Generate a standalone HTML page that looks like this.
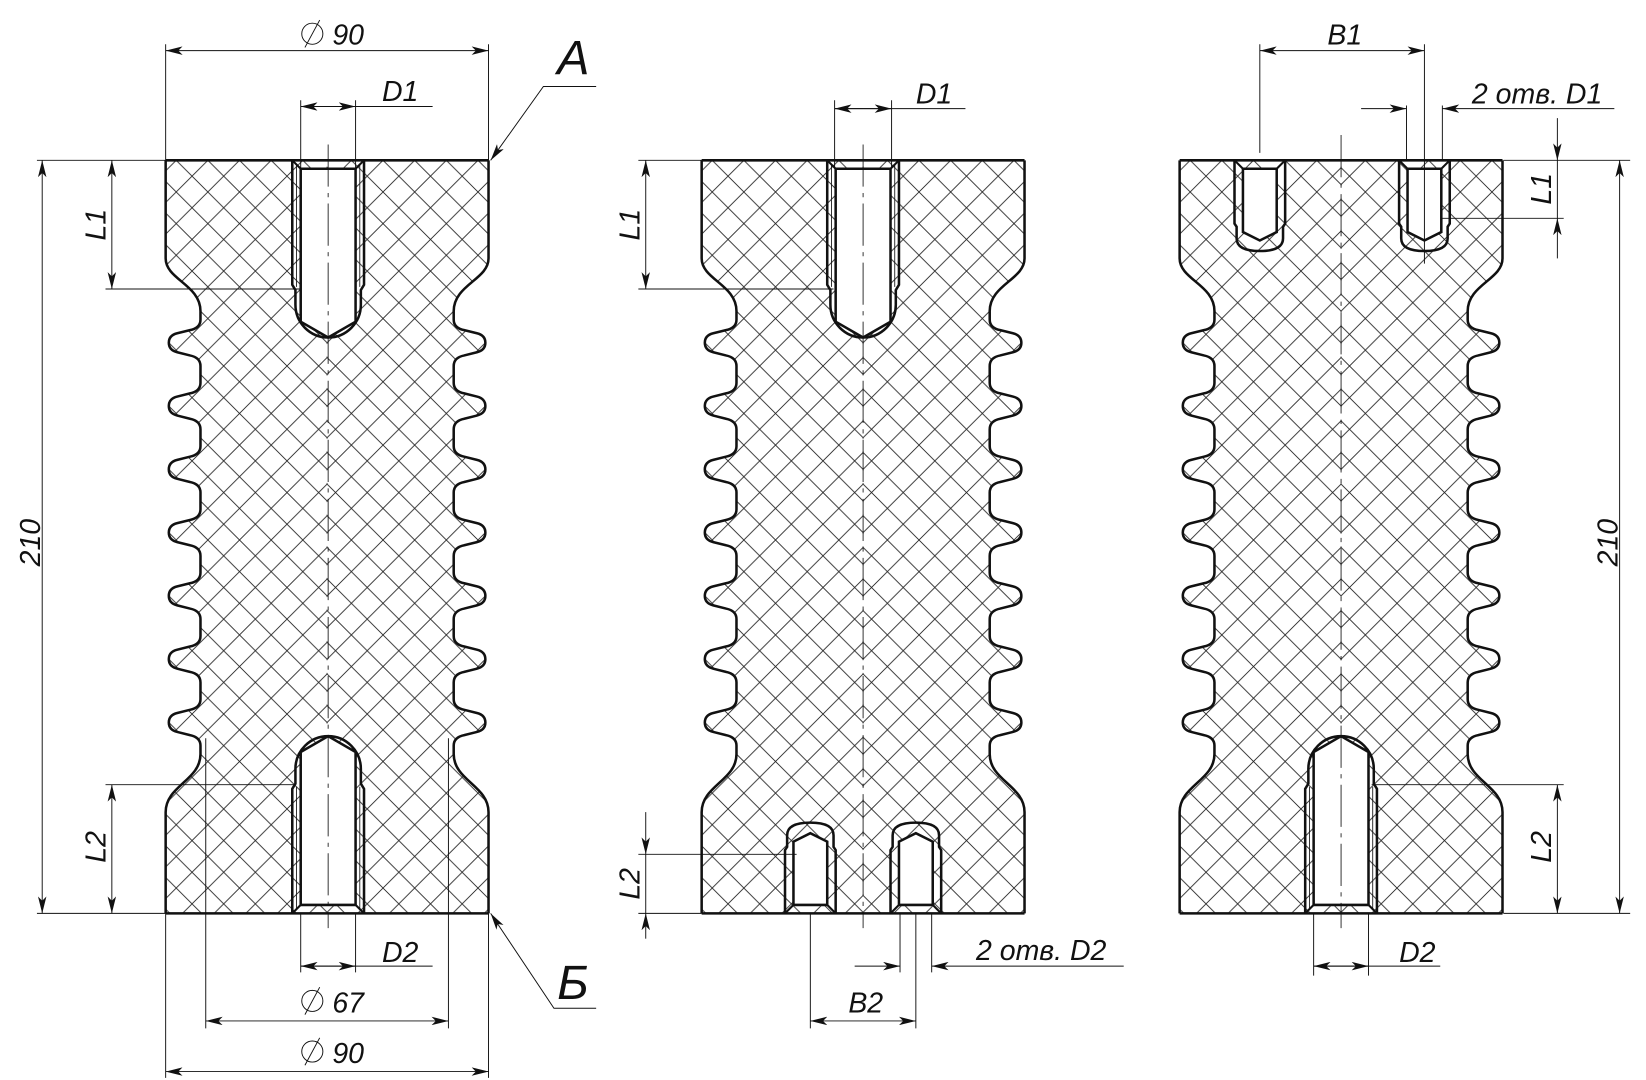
<!DOCTYPE html>
<html><head><meta charset="utf-8"><style>
html,body{margin:0;padding:0;background:#fff;}
svg{display:block;}
text{font-family:"Liberation Sans","DejaVu Sans",sans-serif;font-style:italic;fill:#111;}
</style></head><body>
<svg width="1646" height="1080" viewBox="0 0 1560 1024" preserveAspectRatio="none" xmlns="http://www.w3.org/2000/svg">
<defs>
<pattern id="h" patternUnits="userSpaceOnUse" width="30" height="30" x="7" y="2">
<path d="M0,0 L30,30 M30,0 L0,30" stroke="#222" stroke-width="0.8" fill="none"/>
</pattern>
<marker id="a" viewBox="0 0 16 8" refX="16" refY="4" markerWidth="16" markerHeight="8" markerUnits="userSpaceOnUse" orient="auto-start-reverse">
<path d="M0,0 L16,4 L0,8 L4,4 Z" fill="#111"/>
</marker>
<path id="prof" d="M-153,152 L-153,245 C-153,265 -120,270 -120,295
l0,8 q0,8 -10,10 l-12,3 q-8,2 -8,9 q0,7 8,9 l12,3 q10,2 10,10 l0,8
l0,8 q0,8 -10,10 l-12,3 q-8,2 -8,9 q0,7 8,9 l12,3 q10,2 10,10 l0,8
l0,8 q0,8 -10,10 l-12,3 q-8,2 -8,9 q0,7 8,9 l12,3 q10,2 10,10 l0,8
l0,8 q0,8 -10,10 l-12,3 q-8,2 -8,9 q0,7 8,9 l12,3 q10,2 10,10 l0,8
l0,8 q0,8 -10,10 l-12,3 q-8,2 -8,9 q0,7 8,9 l12,3 q10,2 10,10 l0,8
l0,8 q0,8 -10,10 l-12,3 q-8,2 -8,9 q0,7 8,9 l12,3 q10,2 10,10 l0,8
l0,8 q0,8 -10,10 l-12,3 q-8,2 -8,9 q0,7 8,9 l12,3 q10,2 10,10 l0,8
C-120,740 -153,745 -153,770 L-153,866"/>
<g id="bigHole">
<path d="M-34,0 V118 L-31,123 V137 A31,31 0 0 0 31,137 V123 L34,118 V0" fill="none" stroke="#111" stroke-width="2.4"/>
<path d="M-26,8 V153 L0,168 L26,153 V8 Z" fill="#fff" stroke="#111" stroke-width="2.4"/>
<path d="M-34,0 L-26,8 M34,0 L26,8" stroke="#111" stroke-width="2"/>
<path d="M-30,4 V120 M30,4 V120" stroke="#111" stroke-width="0.8"/>
</g>
<g id="smHole">
<path d="M-24,0 V60 L-22,63 V74 Q-22,86 0,86 Q22,86 22,74 V63 L24,60 V0" fill="none" stroke="#111" stroke-width="2.4"/>
<path d="M-16,8 V68 L0,76 L16,68 V8 Z" fill="#fff" stroke="#111" stroke-width="2.4"/>
<path d="M-24,0 L-16,8 M24,0 L16,8" stroke="#111" stroke-width="2"/>
</g>
<path id="half" d="M0.5,152 L-153,152 L-153,245 C-153,265 -120,270 -120,295
l0,8 q0,8 -10,10 l-12,3 q-8,2 -8,9 q0,7 8,9 l12,3 q10,2 10,10 l0,8
l0,8 q0,8 -10,10 l-12,3 q-8,2 -8,9 q0,7 8,9 l12,3 q10,2 10,10 l0,8
l0,8 q0,8 -10,10 l-12,3 q-8,2 -8,9 q0,7 8,9 l12,3 q10,2 10,10 l0,8
l0,8 q0,8 -10,10 l-12,3 q-8,2 -8,9 q0,7 8,9 l12,3 q10,2 10,10 l0,8
l0,8 q0,8 -10,10 l-12,3 q-8,2 -8,9 q0,7 8,9 l12,3 q10,2 10,10 l0,8
l0,8 q0,8 -10,10 l-12,3 q-8,2 -8,9 q0,7 8,9 l12,3 q10,2 10,10 l0,8
l0,8 q0,8 -10,10 l-12,3 q-8,2 -8,9 q0,7 8,9 l12,3 q10,2 10,10 l0,8
C-120,740 -153,745 -153,770 L-153,866 L0.5,866 Z"/>
<g id="body">
<use href="#half" fill="url(#h)"/>
<use href="#prof" fill="none" stroke="#111" stroke-width="2.4"/>
<g transform="scale(-1,1)">
<use href="#half" fill="url(#h)"/>
<use href="#prof" fill="none" stroke="#111" stroke-width="2.4"/>
</g>
<path d="M-153,152 H153 M-153,866 H153" stroke="#111" stroke-width="2.4"/>
</g>
</defs>

<!-- Body 1 -->
<use href="#body" transform="translate(310,0)"/>
<use href="#bigHole" transform="translate(311,152)"/>
<use href="#bigHole" transform="translate(311,866) scale(1,-1)"/>
<path d="M311,137 V880" stroke="#111" stroke-width="0.8" stroke-dasharray="40,6,4,6" fill="none"/>

<!-- Body 2 -->
<use href="#body" transform="translate(818,0)"/>
<use href="#bigHole" transform="translate(818,152)"/>
<use href="#smHole" transform="translate(768,866) scale(1,-1)"/>
<use href="#smHole" transform="translate(868,866) scale(1,-1)"/>
<path d="M818,137 V880" stroke="#111" stroke-width="0.8" stroke-dasharray="40,6,4,6" fill="none"/>

<!-- Body 3 -->
<use href="#body" transform="translate(1271,0)"/>
<use href="#smHole" transform="translate(1194,152)"/>
<use href="#smHole" transform="translate(1350,152)"/>
<use href="#bigHole" transform="translate(1271,866) scale(1,-1)"/>
<path d="M1271,128 V880" stroke="#111" stroke-width="0.8" stroke-dasharray="40,6,4,6" fill="none"/>

<g stroke="#111" stroke-width="0.9" fill="none">
<!-- body1 dims -->
<path d="M157,152 V42 M463,152 V42"/>
<path d="M157,48 H463" marker-start="url(#a)" marker-end="url(#a)"/>
<path d="M285,160 V95 M337,160 V95"/>
<path d="M311,101 H285" marker-end="url(#a)"/>
<path d="M311,101 H337" marker-end="url(#a)"/>
<path d="M285,101 H410"/>
<path d="M565,82 H515 L465,152" marker-end="url(#a)"/>
<path d="M35,152 H157 M35,866 H157"/>
<path d="M40,152 V866" marker-start="url(#a)" marker-end="url(#a)"/>
<path d="M100,274 H285 M100,744 H280"/>
<path d="M106,152 V274" marker-start="url(#a)" marker-end="url(#a)"/>
<path d="M106,744 V866" marker-start="url(#a)" marker-end="url(#a)"/>
<path d="M285,866 V922 M337,866 V922"/>
<path d="M311,916 H285" marker-end="url(#a)"/>
<path d="M311,916 H337" marker-end="url(#a)"/>
<path d="M285,916 H410"/>
<path d="M195,700 V975 M425,700 V975"/>
<path d="M195,968 H425" marker-start="url(#a)" marker-end="url(#a)"/>
<path d="M157,866 V1022 M463,866 V1022"/>
<path d="M157,1016 H463" marker-start="url(#a)" marker-end="url(#a)"/>
<path d="M565,956 H525 L465,866" marker-end="url(#a)"/>
<!-- body2 dims -->
<path d="M791,160 V95 M845,160 V95"/>
<path d="M818,103 H791" marker-end="url(#a)"/>
<path d="M818,103 H845" marker-end="url(#a)"/>
<path d="M791,103 H915"/>
<path d="M605,152 H665 M605,274 H790"/>
<path d="M612,152 V274" marker-start="url(#a)" marker-end="url(#a)"/>
<path d="M605,810 H755 M605,866 H665"/>
<path d="M612,770 V810" marker-end="url(#a)"/>
<path d="M612,890 V866" marker-end="url(#a)"/>
<path d="M612,810 V866"/>
<path d="M853,866 V922 M883,866 V922"/>
<path d="M810,916 H853" marker-end="url(#a)"/>
<path d="M1065,916 H883" marker-end="url(#a)"/>
<path d="M768,866 V975 M868,866 V975"/>
<path d="M768,968 H868" marker-start="url(#a)" marker-end="url(#a)"/>
<!-- body3 dims -->
<path d="M1194,145 V42 M1350,250 V42"/>
<path d="M1194,48 H1350" marker-start="url(#a)" marker-end="url(#a)"/>
<path d="M1333,152 V100 M1367,152 V100"/>
<path d="M1290,103 H1333" marker-end="url(#a)"/>
<path d="M1530,103 H1367" marker-end="url(#a)"/>
<path d="M1425,152 H1545 M1367,207 H1482"/>
<path d="M1476,112 V152" marker-end="url(#a)"/>
<path d="M1476,245 V207" marker-end="url(#a)"/>
<path d="M1476,152 V207"/>
<path d="M1535,152 V866" marker-start="url(#a)" marker-end="url(#a)"/>
<path d="M1425,866 H1545 M1300,744 H1482"/>
<path d="M1476,744 V866" marker-start="url(#a)" marker-end="url(#a)"/>
<path d="M1245,866 V925 M1297,866 V925"/>
<path d="M1271,916 H1245" marker-end="url(#a)"/>
<path d="M1271,916 H1297" marker-end="url(#a)"/>
<path d="M1245,916 H1365"/>
<!-- diameter symbols -->
<circle cx="296" cy="32" r="10"/><path d="M289,45 L303,19"/>
<circle cx="296" cy="949" r="10"/><path d="M289,962 L303,936"/>
<circle cx="296" cy="997" r="10"/><path d="M289,1010 L303,984"/>
</g>

<g font-size="27">
<text x="315" y="42">90</text>
<text x="362" y="96">D1</text>
<text x="868" y="98">D1</text>
<text x="1258" y="42">B1</text>
<text x="1395" y="98">2 отв. D1</text>
<text x="362" y="912">D2</text>
<text x="315" y="960">67</text>
<text x="315" y="1008">90</text>
<text x="925" y="910">2 отв. D2</text>
<text x="804" y="960">B2</text>
<text x="1326" y="912">D2</text>
<text transform="translate(38,537) rotate(-90)">210</text>
<text transform="translate(100,228) rotate(-90)">L1</text>
<text transform="translate(100,818) rotate(-90)">L2</text>
<text transform="translate(606,228) rotate(-90)">L1</text>
<text transform="translate(606,853) rotate(-90)">L2</text>
<text transform="translate(1470,194) rotate(-90)">L1</text>
<text transform="translate(1533,537) rotate(-90)">210</text>
<text transform="translate(1470,818) rotate(-90)">L2</text>
</g>
<text x="528" y="70" font-size="46">A</text>
<text x="528" y="947" font-size="46">Б</text>
</svg>
</body></html>
